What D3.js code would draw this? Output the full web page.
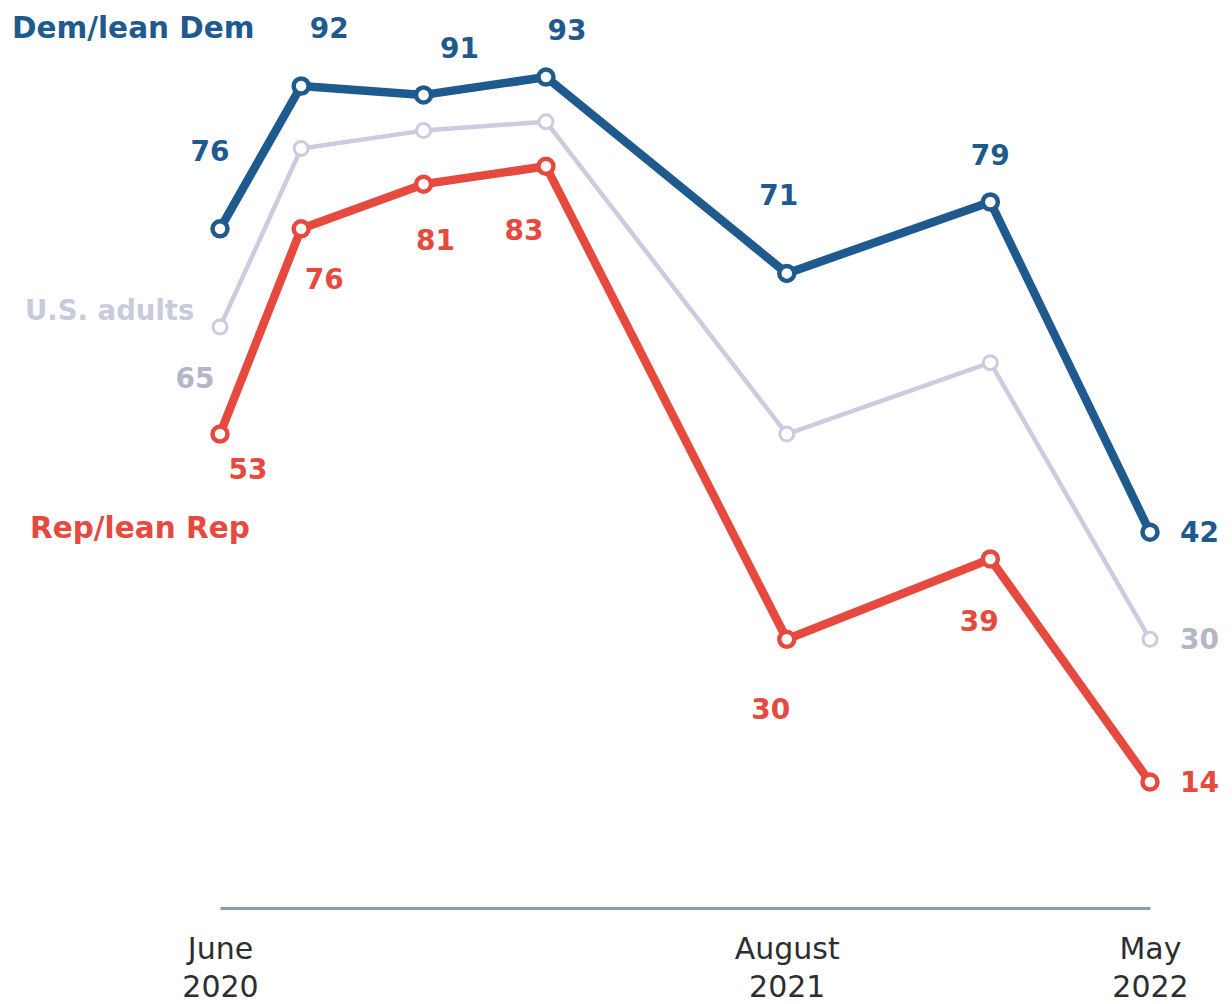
<!DOCTYPE html>
<html>
<head>
<meta charset="utf-8">
<script src="https://cdn.jsdelivr.net/npm/d3@7"></script>
<style>
  html, body { margin: 0; padding: 0; background: #ffffff; }
  svg { display: block; }
</style>
</head>
<body>
<svg id="chart" width="1232" height="1004"></svg>
<script>
// Survey waves (month of fieldwork)
const surveyDates = ["2020-06-01", "2020-08-01", "2020-11-01", "2021-02-01", "2021-08-01", "2022-01-01", "2022-05-01"];

// Share saying yes, by group (%)
const demValues   = [76, 92, 91, 93, 71, 79, 42];
const adultValues = [65, 85, 87, 88, 53, 61, 30];
const repValues   = [53, 76, 81, 83, 30, 39, 14];

// Which points carry a value label
const demLabeled   = [true, true, true, true, true, true, true];
const adultLabeled = [true, false, false, false, false, false, true];
const repLabeled   = [true, true, true, true, true, true, true];

// Axis ticks
const tickDates  = ["2020-06-01", "2021-08-01", "2022-05-01"];
const tickMonths = ["June", "August", "May"];
const tickYears  = ["2020", "2021", "2022"];

const seriesNames = ["Dem/lean Dem", "U.S. adults", "Rep/lean Rep"];

const parse = d3.timeParse("%Y-%m-%d");
const dates = surveyDates.map(parse);

const svg = d3.select("#chart");

const x = d3.scaleTime()
  .domain([parse(tickDates[0]), parse(tickDates[2])])
  .range([220, 1150]);

const y = d3.scaleLinear()
  .domain([0, 100])
  .range([907, 14.6]);

const numFont = "'DejaVu Sans', sans-serif";

// Label offsets (dx, dy of label centre from the point) for each series
const demOffsets   = [[-10, -78], [28, -58], [36, -47], [21, -47], [-8, -78], [0, -47], null];
const adultOffsets = [[-25, 51], null, null, null, null, null, null];
const repOffsets   = [[28, 35], [23, 50], [12, 56], [-22, 64], [-16, 70], [-11, 62], null];

const series = [
  { name: seriesNames[1], values: adultValues, labeled: adultLabeled, offsets: adultOffsets,
    color: "#cacce0", textColor: "#b3b6c9", width: 4.5, r: 7, sw: 3 },
  { name: seriesNames[2], values: repValues, labeled: repLabeled, offsets: repOffsets,
    color: "#e64a3f", textColor: "#e64a3f", width: 8.5, r: 7.5, sw: 4.5 },
  { name: seriesNames[0], values: demValues, labeled: demLabeled, offsets: demOffsets,
    color: "#1f5a8e", textColor: "#1f5a8e", width: 8.5, r: 7.5, sw: 4.5 }
];

// x axis: baseline plus two-line month/year labels
const axis = d3.axisBottom(x)
  .tickValues(tickDates.map(parse))
  .tickSize(0)
  .tickFormat("");

const gAxis = svg.append("g")
  .attr("transform", `translate(0, ${y(0) + 1})`)
  .call(axis);
gAxis.select(".domain").attr("stroke", "#8e9ab2").attr("stroke-width", 3);
gAxis.selectAll(".tick").each(function(d, i) {
  const t = d3.select(this).select("text")
    .attr("fill", "#2e2e2e")
    .attr("font-family", numFont)
    .attr("font-size", 30)
    .attr("text-anchor", "middle")
    .attr("y", 0).attr("dy", null);
  t.append("tspan").attr("x", 0).attr("y", 51).text(tickMonths[i]);
  t.append("tspan").attr("x", 0).attr("y", 89).text(tickYears[i]);
});

const line = d3.line()
  .x((d, i) => x(dates[i]))
  .y(d => y(d));

series.forEach(s => {
  const g = svg.append("g");
  g.append("path")
    .datum(s.values)
    .attr("d", line)
    .attr("fill", "none")
    .attr("stroke", s.color)
    .attr("stroke-width", s.width)
    .attr("stroke-linejoin", "round")
    .attr("stroke-linecap", "round");

  g.selectAll("circle")
    .data(s.values)
    .join("circle")
    .attr("cx", (d, i) => x(dates[i]))
    .attr("cy", d => y(d))
    .attr("r", s.r)
    .attr("fill", "#ffffff")
    .attr("stroke", s.color)
    .attr("stroke-width", s.sw);

  // value labels
  s.values.forEach((v, i) => {
    if (!s.labeled[i]) return;
    const last = i === s.values.length - 1;
    const px = x(dates[i]), py = y(v);
    const t = g.append("text")
      .attr("font-family", numFont)
      .attr("font-weight", "bold")
      .attr("font-size", 28)
      .attr("fill", s.textColor)
      .text(v);
    if (last) {
      t.attr("x", px + 30).attr("y", py + 10).attr("text-anchor", "start");
    } else {
      const o = s.offsets[i];
      t.attr("x", px + o[0]).attr("y", py + o[1] + 10).attr("text-anchor", "middle");
    }
  });
});

// Series name labels
const nameLabels = [
  { text: seriesNames[0], x: 12, y: 38, color: "#1f5a8e", size: 29.5 },
  { text: seriesNames[1], x: 25, y: 320, color: "#c8cbdb", size: 27.5 },
  { text: seriesNames[2], x: 30, y: 538, color: "#e64a3f", size: 29.5 }
];
svg.append("g").selectAll("text")
  .data(nameLabels)
  .join("text")
  .attr("x", d => d.x)
  .attr("y", d => d.y)
  .attr("font-family", numFont)
  .attr("font-weight", "bold")
  .attr("font-size", d => d.size)
  .attr("fill", d => d.color)
  .text(d => d.text);
</script>
</body>
</html>
